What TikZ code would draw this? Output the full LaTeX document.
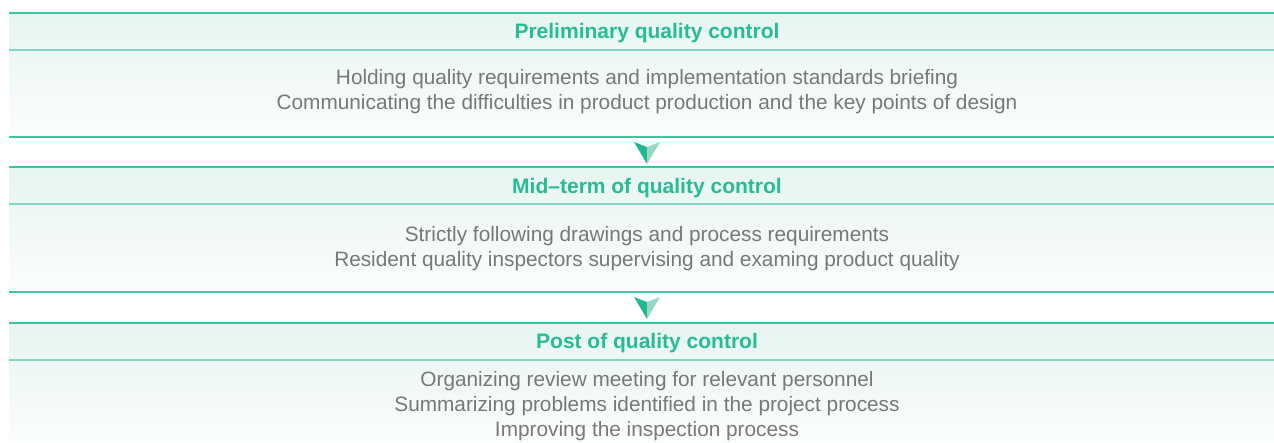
\documentclass[tikz,border=0pt]{standalone}
\usepackage{fontspec}
\setmainfont{Liberation Sans}
\usetikzlibrary{calc}
\definecolor{teal1}{HTML}{3CC6A0}
\definecolor{teal2}{HTML}{80D8C5}
\definecolor{headtxt}{HTML}{26BD94}
\definecolor{bodytxt}{HTML}{787878}
\definecolor{hfillA}{HTML}{E6F5F1}
\definecolor{hfillB}{HTML}{EEF8F5}
\definecolor{bfillA}{HTML}{EEF7F5}
\definecolor{bfillB}{HTML}{FCFDFD}
\definecolor{arrdark}{HTML}{22B893}
\definecolor{arrlight}{HTML}{98D8C8}
\tikzset{
  headtext/.style={font=\fontsize{21}{24}\selectfont\bfseries, text=headtxt, anchor=base},
  bodytext/.style={font=\fontsize{20.8}{25}\selectfont, text=bodytxt, align=center, anchor=center},
  headfill/.style={top color=hfillA, bottom color=hfillB, draw=none},
  bodyfill/.style={top color=bfillA, bottom color=bfillB, draw=none},
  sepline/.style={teal2, line width=2pt},
  edgeline/.style={teal1, line width=1.2pt},
}
\begin{document}
\begin{tikzpicture}[x=1pt,y=-1pt]
\useasboundingbox (0,0) rectangle (1274,443);
% panel 1
\fill[headfill] (9,13) rectangle (1274,50);
\fill[bodyfill] (9,50) rectangle (1274,137);
\draw[edgeline] (9,13) -- (1274,13);
\draw[sepline] (9,50) -- (1274,50);
\draw[edgeline] (9,137) -- (1274,137);
\node[headtext] (h1) at (647,38.5) {Preliminary quality control};
\node[bodytext] (b1) at (647,91.5) {Holding quality requirements and implementation standards briefing\\Communicating the difficulties in product production and the key points of design};
% panel 2
\fill[headfill] (9,167) rectangle (1274,204);
\fill[bodyfill] (9,204) rectangle (1274,292);
\draw[edgeline] (9,167) -- (1274,167);
\draw[sepline] (9,204) -- (1274,204);
\draw[edgeline] (9,292) -- (1274,292);
\node[headtext] (h2) at (647,193.5) {Mid--term of quality control};
\node[bodytext] (b2) at (647,249) {Strictly following drawings and process requirements\\Resident quality inspectors supervising and examing product quality};
% panel 3
\fill[headfill] (9,323) rectangle (1274,360);
\fill[bodyfill] (9,360) rectangle (1274,443);
\draw[edgeline] (9,323) -- (1274,323);
\draw[sepline] (9,360) -- (1274,360);
\node[headtext] (h3) at (647,348.5) {Post of quality control};
\node[bodytext] (b3) at (647,406) {Organizing review meeting for relevant personnel\\Summarizing problems identified in the project process\\Improving the inspection process};
% arrows
\coordinate (a1) at (647,142);
\coordinate (a2) at (647,297);
\foreach \a in {a1,a2}{
  \fill[arrdark] ($(\a)+(-13,0)$) -- ($(\a)+(0,5)$) -- ($(\a)+(0,22)$) -- cycle;
  \fill[arrlight] ($(\a)+(13,0)$) -- ($(\a)+(0,5)$) -- ($(\a)+(0,22)$) -- cycle;
}
\end{tikzpicture}
\end{document}
